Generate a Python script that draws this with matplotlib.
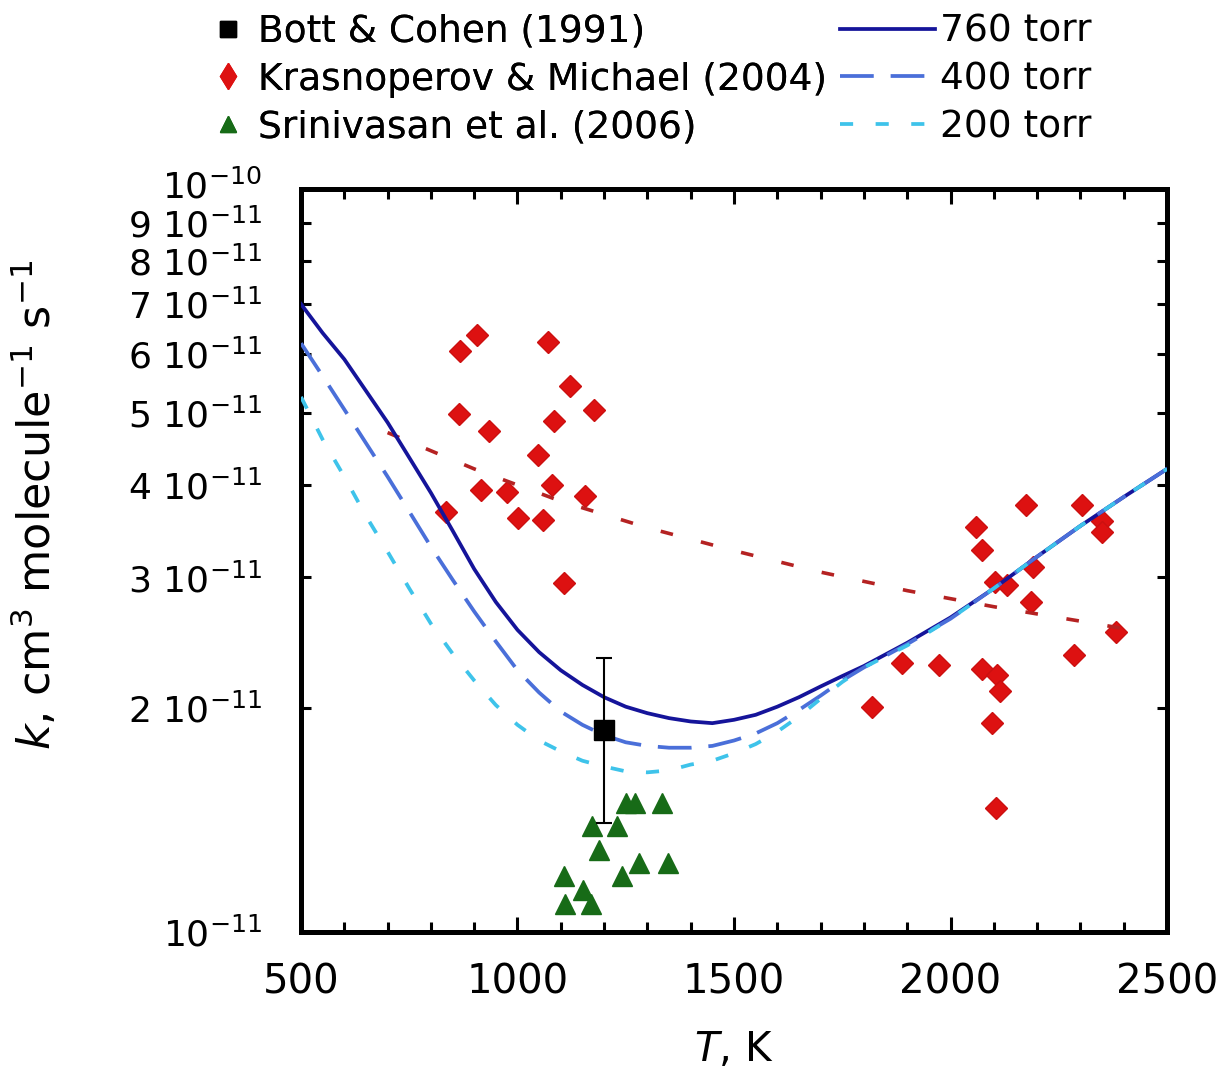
import matplotlib
matplotlib.use("Agg")
import matplotlib.pyplot as plt
from matplotlib.lines import Line2D
from matplotlib.ticker import FixedLocator, FixedFormatter, MultipleLocator
from matplotlib.transforms import ScaledTranslation

plt.rcParams["font.family"] = ["DejaVu Sans"]
plt.rcParams["mathtext.default"] = "regular"

# rate constants below are in units of 1e-11 cm3 molecule-1 s-1
T_model = [500, 550, 600, 650, 700, 750, 800, 850, 900, 950, 1000, 1050, 1100,
           1150, 1200, 1250, 1300, 1350, 1400, 1450, 1500, 1550, 1600, 1650,
           1700, 1750, 1800, 1900, 2000, 2100, 2200, 2300, 2400, 2500]
k_760 = [7.0, 6.4, 5.9, 5.35, 4.85, 4.35, 3.9, 3.47, 3.08, 2.78, 2.55, 2.38, 2.25,
         2.15, 2.07, 2.01, 1.97, 1.94, 1.92, 1.91, 1.93, 1.96, 2.01, 2.07,
         2.14, 2.21, 2.28, 2.45, 2.65, 2.9, 3.2, 3.52, 3.85, 4.2]
k_400 = [6.2, 5.6, 5.05, 4.55, 4.1, 3.68, 3.3, 2.98, 2.7, 2.46, 2.25, 2.1, 1.98,
         1.9, 1.84, 1.8, 1.78, 1.77, 1.77, 1.78, 1.81, 1.85, 1.91, 1.99,
         2.08, 2.18, 2.27, 2.44, 2.64, 2.9, 3.2, 3.52, 3.85, 4.2]
k_200 = [5.25, 4.6, 4.1, 3.63, 3.25, 2.9, 2.6, 2.37, 2.18, 2.02, 1.9, 1.81, 1.75,
         1.7, 1.67, 1.645, 1.64, 1.65, 1.68, 1.7, 1.74, 1.79, 1.86, 1.95,
         2.06, 2.17, 2.27, 2.43, 2.64, 2.9, 3.2, 3.52, 3.85, 4.2]

# fit through the Krasnoperov & Michael data
T_fit = [700, 900, 1100, 1300, 1500, 1700, 1900, 2100, 2300, 2400]
k_fit = [4.70, 4.20, 3.80, 3.50, 3.26, 3.05, 2.88, 2.74, 2.62, 2.56]

bott_T = [1200]
bott_k = [1.87]
bott_err = [0.47]

km_T = [867, 906, 1070, 1121, 1177, 865, 1084, 934, 1047, 916, 976, 1080, 1156,
        835, 1001, 1059, 1107,
        2174, 2303, 2059, 2350, 2350, 2072, 2102, 2130, 2190, 2186, 2382, 2285,
        1888, 1973, 2072, 2107, 2114, 1818, 2095, 2105]
km_k = [6.05, 6.36, 6.22, 5.43, 5.04, 4.98, 4.87, 4.72, 4.39, 3.93, 3.91, 3.99, 3.86,
        3.67, 3.61, 3.59, 2.95,
        3.75, 3.76, 3.51, 3.57, 3.45, 3.27, 2.96, 2.93, 3.10, 2.78, 2.53, 2.36,
        2.30, 2.29, 2.26, 2.22, 2.11, 2.01, 1.91, 1.47]

sr_T = [1250, 1271, 1333, 1172, 1230, 1188, 1280, 1347, 1107, 1241, 1151, 1110, 1170]
sr_k = [1.49, 1.49, 1.49, 1.39, 1.39, 1.29, 1.24, 1.24, 1.19, 1.19, 1.14, 1.09, 1.09]

y_ticks = [1, 2, 3, 4, 5, 6, 7, 8, 9, 10]
y_labels = [r"$10^{-11}$"] + [r"$%d\ 10^{-11}$" % v for v in y_ticks[1:-1]] + [r"$10^{-10}$"]

scale = 1e-11
fig = plt.figure(figsize=(12.26, 10.70), dpi=100)
ax = fig.add_axes([0.2455, 0.129, 0.7064, 0.6944])

c760, c400, c200 = "#15149a", "#4a6fd9", "#3ec3ea"
lw = 2.7

ax.plot(km_T, [v * scale for v in km_k], ls="none", marker="D", ms=11.5,
        color="#dd1111", mec="#cc1010", zorder=2)
ax.plot(T_fit, [v * scale for v in k_fit], color="#b52222", lw=2.6,
        dashes=(3.5, 8), zorder=2.5)
ax.plot(sr_T, [v * scale for v in sr_k], ls="none", marker="^", ms=15,
        color="#176b17", zorder=2)

ax.plot(T_model, [v * scale for v in k_760], color=c760, lw=lw, zorder=3)
ax.plot(T_model, [v * scale for v in k_400], color=c400, lw=lw,
        dashes=(9, 4.5), zorder=3)
ax.plot(T_model, [v * scale for v in k_200], color=c200, lw=lw,
        dashes=(3.5, 6), zorder=3)

ax.errorbar(bott_T, [v * scale for v in bott_k], yerr=[v * scale for v in bott_err],
            fmt="s", ms=15, color="black", ecolor="black", elinewidth=1.5,
            capsize=6, capthick=1.5, zorder=4)

ax.set_yscale("log")
ax.set_xlim(500, 2500)
ax.set_ylim(1e-11, 1e-10)

ax.xaxis.set_major_locator(MultipleLocator(500))
ax.xaxis.set_minor_locator(MultipleLocator(100))
ax.yaxis.set_major_locator(FixedLocator([v * scale for v in y_ticks]))
ax.yaxis.set_major_formatter(FixedFormatter(y_labels))
ax.yaxis.set_minor_locator(FixedLocator([]))

ax.tick_params(axis="both", which="both", direction="in", top=True, right=True,
               width=2.2)
ax.tick_params(axis="x", which="major", length=11, pad=22, labelsize=29)
ax.tick_params(axis="x", which="minor", length=7)
ax.tick_params(axis="y", which="major", length=7, pad=28, labelsize=26)
for sp in ax.spines.values():
    sp.set_linewidth(3.6)

ax.set_xlabel(r"$\mathit{T}$, K", fontsize=29, labelpad=20)
ax.set_ylabel(r"$\mathit{k}$, cm$^3$ molecule$^{-1}$ s$^{-1}$", fontsize=32)
ax.yaxis.set_label_coords(-0.278, 0.575)

marker_handles = [
    Line2D([], [], ls="none", marker="s", ms=11, color="black"),
    Line2D([], [], ls="none", marker="d", ms=13, color="#dd1111"),
    Line2D([], [], ls="none", marker="^", ms=12, color="#176b17"),
]
line_handles = [
    Line2D([], [], color=c760, lw=lw),
    Line2D([], [], color=c400, lw=lw, dashes=(9, 4.5)),
    Line2D([], [], color=c200, lw=lw, dashes=(3.5, 6)),
]
leg1 = fig.legend(marker_handles,
                  ["Bott & Cohen (1991)", "Krasnoperov & Michael (2004)",
                   "Srinivasan et al. (2006)"],
                  loc="upper left", bbox_to_anchor=(0.1737, 0.987), frameon=False,
                  fontsize=27, handlelength=0.8, handletextpad=0.4,
                  labelspacing=0.31, borderpad=0, borderaxespad=0)
fig.add_artist(leg1)
fig.legend(line_handles, ["760 torr", "400 torr", "200 torr"],
           loc="upper left", bbox_to_anchor=(0.685, 0.987), frameon=False,
           fontsize=27, handlelength=2.53, handletextpad=0.13,
           labelspacing=0.31, borderpad=0, borderaxespad=0)

# the top y label sits close to its neighbour on the log scale; lift it a little
fig.canvas.draw()
top_label = ax.yaxis.get_major_ticks()[-1].label1
top_label.set_transform(top_label.get_transform()
                        + ScaledTranslation(0, 0.05, fig.dpi_scale_trans))

fig.savefig("out.png", dpi=100)
